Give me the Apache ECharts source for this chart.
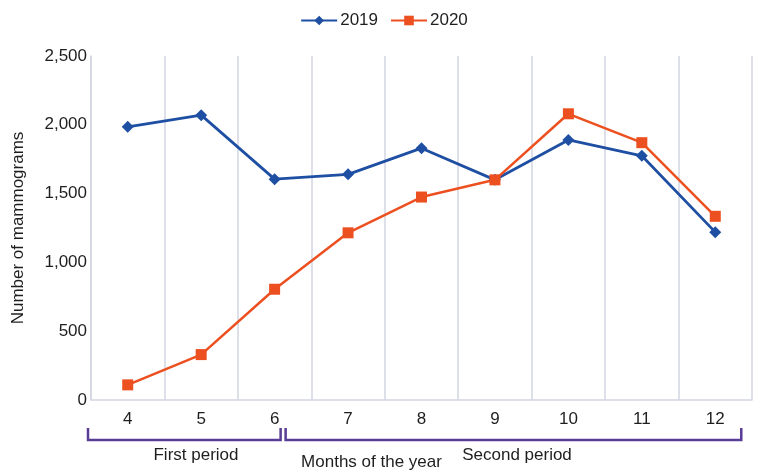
<!DOCTYPE html>
<html><head><meta charset="utf-8">
<script src="https://cdn.jsdelivr.net/npm/echarts@6/dist/echarts.min.js"></script>
<style>html,body{margin:0;padding:0;background:#fff}#c{width:768px;height:476px}</style>
</head><body><div id="c"></div>
<script>
const months = ['4','5','6','7','8','9','10','11','12'];
const s2019 = [1985, 2070, 1605, 1640, 1830, 1600, 1890, 1775, 1220];
const s2020 = [110, 330, 805, 1215, 1475, 1600, 2080, 1870, 1335];
const yTicks = [0, 500, 1000, 1500, 2000, 2500];
const periods = ['First period', 'Second period'];

const FONT = "'Liberation Sans',Arial,sans-serif";
const BLUE = '#1f4fa3', ORANGE = '#ec5020', PURPLE = '#5a3d96', GRID = '#d3d6e2', TXT = '#1e1e1e';
const FS = 17;
const chart = echarts.init(document.getElementById('c'));
chart.setOption({
  animation: false,
  textStyle: {fontFamily: FONT},
  legend: {
    top: 7, left: 'center', itemWidth: 36, itemHeight: 12, itemGap: 12,
    textStyle: {fontSize: FS, color: TXT, fontFamily: FONT, padding: [0, 0, 0, -2]},
    data: ['2019', '2020']
  },
  grid: {left: 91, right: 16, top: 56, bottom: 76, containLabel: false},
  xAxis: {
    type: 'category', data: months, boundaryGap: true,
    name: 'Months of the year', nameLocation: 'middle', nameGap: 54,
    nameTextStyle: {fontSize: FS, color: TXT, fontFamily: FONT, padding: [0, 100, 0, 0]},
    axisLine: {lineStyle: {color: GRID, width: 1.5}},
    axisTick: {show: false},
    axisLabel: {fontSize: FS, color: TXT, margin: 11, fontFamily: FONT},
    splitLine: {show: true, lineStyle: {color: GRID, width: 1.5}}
  },
  yAxis: {
    type: 'value', min: 0, max: 2500, interval: 500,
    name: 'Number of mammograms', nameLocation: 'middle', nameGap: 64, nameRotate: 90,
    nameTextStyle: {fontSize: FS, color: TXT, fontFamily: FONT},
    axisLine: {show: true, lineStyle: {color: GRID, width: 1.5}},
    axisTick: {show: false},
    splitLine: {show: false},
    axisLabel: {fontSize: FS, color: TXT, margin: 4, fontFamily: FONT,
      formatter: v => yTicks.includes(v) ? v.toLocaleString('en-US') : ''}
  },
  series: [
    {name: '2019', type: 'line', data: s2019, symbol: 'diamond', symbolSize: 12,
     lineStyle: {color: BLUE, width: 2.8}, itemStyle: {color: BLUE}},
    {name: '2020', type: 'line', data: s2020, symbol: 'rect', symbolSize: 11,
     lineStyle: {color: ORANGE, width: 2.5}, itemStyle: {color: ORANGE}}
  ]
});

function px(i) { return chart.convertToPixel({xAxisIndex: 0}, months[i]); }
const gl = 91;
const y0 = 428, y1 = 440;
const mid = px(2) + 8, end = px(8) + 26;
chart.setOption({
  graphic: [
    {type: 'polyline', shape: {points: [[gl - 3, y0], [gl - 3, y1], [mid - 2, y1], [mid - 2, y0]]},
     style: {stroke: PURPLE, lineWidth: 2.5, fill: null}},
    {type: 'polyline', shape: {points: [[mid + 3, y0], [mid + 3, y1], [end, y1], [end, y0]]},
     style: {stroke: PURPLE, lineWidth: 2.5, fill: null}},
    {type: 'text', x: 196, y: 455,
     style: {text: periods[0], fontSize: FS, fill: TXT, fontFamily: FONT, align: 'center', verticalAlign: 'middle'}},
    {type: 'text', x: 517, y: 455,
     style: {text: periods[1], fontSize: FS, fill: TXT, fontFamily: FONT, align: 'center', verticalAlign: 'middle'}}
  ]
});
</script></body></html>
